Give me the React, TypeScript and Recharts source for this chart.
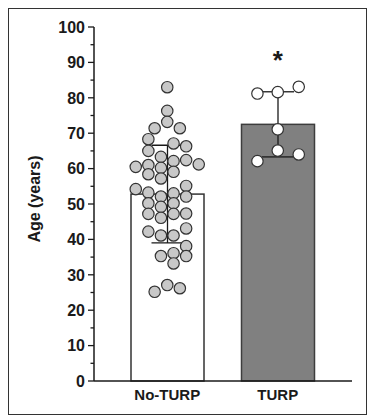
import React from 'react';
import { ComposedChart, Bar, Scatter, XAxis, YAxis, ErrorBar, ReferenceDot } from 'recharts';

// Groups, bar means and SDs
const categories = ['No-TURP', 'TURP'];
const meanAge = [52.8, 72.5];
const sdAge = [13.8, 9.2];

// Individual ages (years) and their column position on the group axis
const noTurpAges = [
  83, 76.3, 73.2, 71.4, 71.4, 68.3, 67.1, 66.3, 65, 63.3, 62.1, 62.4, 60.5, 61, 60.2, 59.1, 61.2,
  58.4, 57.2, 54.2, 53.2, 52.1, 53, 55.1, 52.1, 50.2, 49.2, 50.2, 47.2, 46.1, 47.2, 47.3, 43.1,
  42.2, 41.1, 41.1, 38.1, 36.1, 35.3, 35.3, 33.2, 27.1, 25.2, 26.2,
];
const noTurpPos = [
  1.0, 1.0, 1.0, 0.886, 1.114, 0.829, 1.057, 1.171, 0.829, 0.943, 1.057, 1.171, 0.715, 0.829, 0.943, 1.057, 1.285,
  0.829, 0.943, 0.715, 0.829, 0.943, 1.057, 1.171, 1.171, 0.829, 0.943, 1.057, 0.829, 0.943, 1.057, 1.171, 1.171,
  0.829, 0.943, 1.057, 1.171, 1.057, 0.943, 1.171, 1.057, 1.0, 0.886, 1.114,
];
const turpAges = [81.2, 81.6, 83.1, 71.1, 65.1, 62.1, 64.0];
const turpPos = [1.816, 2.0, 2.19, 2.0, 2.0, 1.816, 2.19];

const yTicks = [0, 5, 10, 15, 20, 25, 30, 35, 40, 45, 50, 55, 60, 65, 70, 75, 80, 85, 90, 95, 100];
const significance = { pos: 2, y: 92.3, label: '*' };

const barData = categories.map((name, i) => ({ name, mean: meanAge[i], sd: sdAge[i] }));
const noTurpPoints = noTurpAges.map((y, i) => ({ x: noTurpPos[i], y }));
const turpPoints = turpAges.map((y, i) => ({ x: turpPos[i], y }));

const FONT = '"Liberation Sans", Arial, Helvetica, sans-serif';
const INK = '#1a1a1a';

const YTick = (props: any) => {
  const { x, y, payload } = props;
  const v = payload.value;
  const major = v % 10 === 0;
  return (
    <g>
      <line x1={x - (major ? 6 : 3.5)} x2={x} y1={y} y2={y} stroke={INK} strokeWidth={1.3} />
      {major && (
        <text x={x - 9} y={y} dy="0.36em" textAnchor="end" fontFamily={FONT} fontWeight="bold" fontSize={16} fill={INK}>
          {v}
        </text>
      )}
    </g>
  );
};

const XTick = (props: any) => {
  const { x, y, payload } = props;
  return (
    <text x={x} y={y + 14} dy="0.36em" textAnchor="middle" fontFamily={FONT} fontWeight="bold" fontSize={15} fill={INK}>
      {payload.value}
    </text>
  );
};

const GrayDot = (p: any) => <circle cx={p.cx} cy={p.cy} r={5.7} fill="#c8c8c8" stroke="#333" strokeWidth={1.2} />;
const WhiteDot = (p: any) => <circle cx={p.cx} cy={p.cy} r={5.7} fill="#ffffff" stroke="#333" strokeWidth={1.2} />;

const YLabel = (props: any) => {
  const vb = props.viewBox || { x: 0, y: 0, width: 0, height: 0 };
  const cx = vb.x + 25;
  const cy = vb.y + vb.height / 2 - 5;
  return (
    <text x={cx} y={cy} transform={`rotate(-90, ${cx}, ${cy})`} textAnchor="middle" dy="0.36em" fontFamily={FONT} fontWeight="bold" fontSize={16} fill={INK}>
      Age (years)
    </text>
  );
};

const Star = (p: any) => (
  <text x={p.cx} y={p.cy + 15} textAnchor="middle" fontFamily={FONT} fontWeight="bold" fontSize={26} fill={INK}>
    {significance.label}
  </text>
);

export default function App() {
  return (
    <div style={{ width: 357, height: 405, border: '1px solid #333', background: '#fff' }}>
      <ComposedChart width={357} height={405} data={barData} margin={{ top: 18, right: 14, bottom: 3, left: 0 }}>
        <XAxis
          xAxisId="cat"
          dataKey="name"
          type="category"
          padding={{ left: 18, right: 19 }}
          height={30}
          axisLine={{ stroke: INK, strokeWidth: 1.5 }}
          tickLine={false}
          tickSize={0}
          tickMargin={0}
          tick={<XTick />}
          interval={0}
        />
        <XAxis xAxisId="num" dataKey="x" type="number" domain={[0.5, 2.5]} padding={{ left: 18, right: 19 }} hide />
        <YAxis
          type="number"
          domain={[0, 100]}
          ticks={yTicks}
          interval={0}
          width={85}
          axisLine={{ stroke: INK, strokeWidth: 1.5 }}
          tickLine={false}
          tickSize={0}
          tickMargin={0}
          tick={<YTick />}
          label={<YLabel />}
        />
        <Bar xAxisId="cat" dataKey="mean" barSize={73} isAnimationActive={false} shape={(p: any) => (
          <rect
            x={p.x}
            y={p.y}
            width={p.width}
            height={p.height}
            fill={p.index === 0 ? '#ffffff' : '#808080'}
            stroke={p.index === 0 ? '#333' : '#3d3d3d'}
            strokeWidth={1.5}
          />
        )}>
          <ErrorBar dataKey="sd" width={16} stroke={INK} strokeWidth={1.3} direction="y" />
        </Bar>
        <Scatter xAxisId="num" data={noTurpPoints} dataKey="y" shape={<GrayDot />} isAnimationActive={false} />
        <Scatter xAxisId="num" data={turpPoints} dataKey="y" shape={<WhiteDot />} isAnimationActive={false} />
        <ReferenceDot xAxisId="num" x={significance.pos} y={significance.y} r={0} shape={<Star />} ifOverflow="visible" />
      </ComposedChart>
    </div>
  );
}
